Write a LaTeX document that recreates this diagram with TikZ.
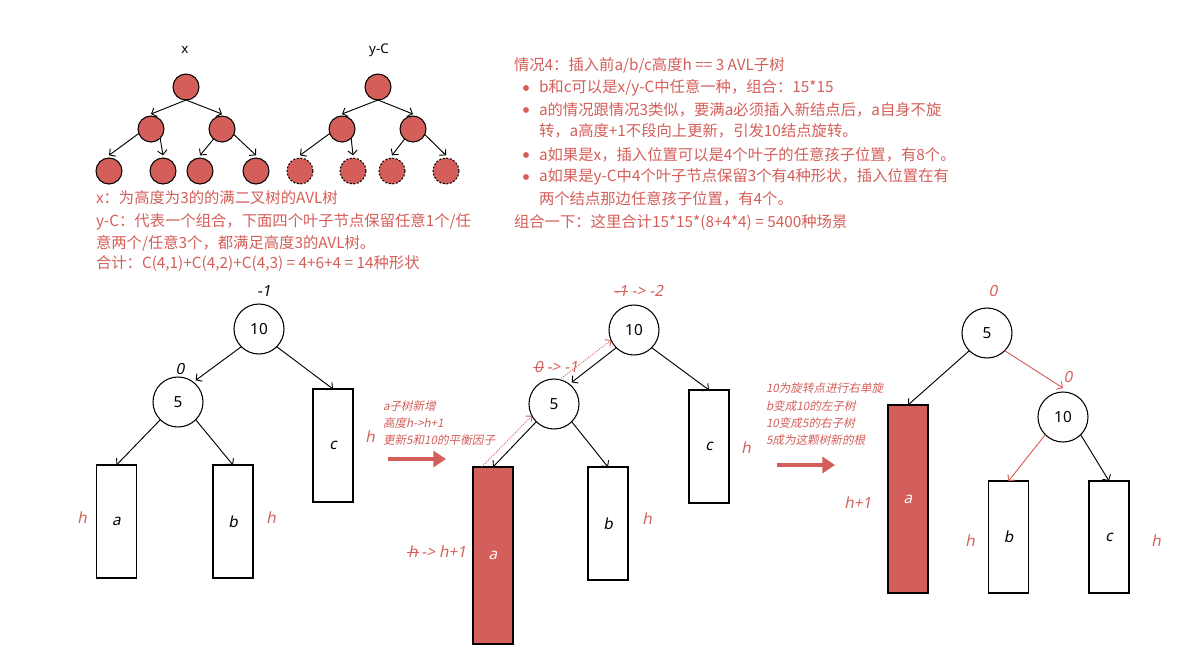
\documentclass[tikz,border=0pt]{standalone}
\usepackage{fontspec}
\setmainfont{Noto Sans}
\newfontfamily\cjk{Noto Sans CJK SC}
\newfontfamily\cjkit[FakeSlant=0.2]{Noto Sans CJK SC}
\newfontfamily\lit[FakeSlant=0.2]{Noto Sans}
\usetikzlibrary{arrows.meta}
\definecolor{rd}{RGB}{212,94,89}
\tikzset{
  every node/.style={inner sep=0pt, outer sep=0pt},
  sc/.style={circle, draw, fill=rd, minimum size=19.5pt, line width=0.8pt},
  scd/.style={sc, dashed, dash pattern=on 1.5pt off 1.2pt},
  bc/.style={circle, draw, fill=white, minimum size=37.5pt, line width=0.8pt, font=\fontsize{11.5}{13}\selectfont},
  box/.style={draw, line width=0.8pt, minimum width=30pt, font=\lit\fontsize{11.5}{13}\selectfont},
  rbox/.style={box, fill=rd, text=white},
  arr/.style={line width=0.7pt, -{Straight Barb[length=3.2pt,width=7pt]}},
  rarr/.style={arr, draw=rd},
  darr/.style={draw=rd, line width=0.7pt, densely dotted, -{Straight Barb[length=3pt,width=6.5pt]}},
  big/.style={draw=rd, line width=2.8pt, -{Triangle[length=9.5pt,width=12pt]}},
  txt/.style={anchor=west, text=rd, font=\cjk\fontsize{11.5}{13}\selectfont},
  ann/.style={anchor=west, text=rd, font=\cjkit\fontsize{8.7}{10}\selectfont},
  bf/.style={text=black, font=\lit\fontsize{11.5}{13}\selectfont},
  rf/.style={text=rd, font=\lit\fontsize{11.5}{13}\selectfont},
  lab/.style={font=\fontsize{10}{12}\selectfont},
  strike/.style={draw=rd, line width=0.6pt},
}
\begin{document}
\begin{tikzpicture}[x=0.75pt,y=-0.75pt]
\useasboundingbox (0,0) rectangle (1197,669);

% ---------- small tree x ----------
\node[lab] (lx) at (185,50) {x};
\node[sc] (xr) at (186,87) {};
\node[sc] (xa) at (151,129) {};
\node[sc] (xb) at (222,129) {};
\node[sc] (x1) at (109,171) {};
\node[sc] (x2) at (163,171) {};
\node[sc] (x3) at (200,171) {};
\node[sc] (x4) at (256,171) {};
\draw[arr] (xr.south) -- ([yshift=1.5pt]xa.north);
\draw[arr] (xr.south) -- ([yshift=1.5pt]xb.north);
\draw[arr] (xa.200) -- ([yshift=2pt]x1.north);
\draw[arr] (xa.-45) -- ([yshift=2pt]x2.north);
\draw[arr] (xb.230) -- ([yshift=2pt]x3.north);
\draw[arr] (xb.-25) -- ([yshift=2pt]x4.north);

% ---------- small tree y-C ----------
\node[lab] (ly) at (379,50) {y-C};
\node[sc] (yr) at (378,87) {};
\node[sc] (ya) at (342,129) {};
\node[sc] (yb) at (413,129) {};
\node[scd] (y1) at (300,171) {};
\node[scd] (y2) at (353,171) {};
\node[scd] (y3) at (392,171) {};
\node[scd] (y4) at (446,171) {};
\draw[arr] (yr.south) -- ([yshift=1.5pt]ya.north);
\draw[arr] (yr.south) -- ([yshift=1.5pt]yb.north);
\draw[arr] (ya.200) -- ([yshift=2pt]y1.north);
\draw[arr] (ya.-45) -- ([yshift=2pt]y2.north);
\draw[arr] (yb.230) -- ([yshift=2pt]y3.north);
\draw[arr] (yb.-25) -- ([yshift=2pt]y4.north);

% ---------- left text ----------
\node[txt] (t1) at (96,198) {x：为高度为3的的满二叉树的AVL树};
\node[txt] (t2) at (96,222) {y-C：代表一个组合，下面四个叶子节点保留任意1个/任};
\node[txt] (t3) at (96,243) {意两个/任意3个，都满足高度3的AVL树。};
\node[txt] (t4) at (96,264) {合计：C(4,1)+C(4,2)+C(4,3) = 4+6+4 = 14种形状};

% ---------- right text ----------
\node[txt] (r1) at (514,65) {情况4：插入前a/b/c高度h == 3 AVL子树};
\node[txt] (r2) at (539,88) {b和c可以是x/y-C中任意一种，组合：15*15};
\node[txt] (r3) at (539,110) {a的情况跟情况3类似，要满a必须插入新结点后，a自身不旋};
\node[txt] (r4) at (539,131) {转，a高度+1不段向上更新，引发10结点旋转。};
\node[txt] (r5) at (539,155) {a如果是x，插入位置可以是4个叶子的任意孩子位置，有8个。};
\node[txt] (r6) at (539,177) {a如果是y-C中4个叶子节点保留3个有4种形状，插入位置在有};
\node[txt] (r7) at (539,199) {两个结点那边任意孩子位置，有4个。};
\node[txt] (r8) at (514,223) {组合一下：这里合计15*15*(8+4*4) = 5400种场景};
\foreach \yy in {88,110,155,177}
  \fill[rd] (526,\yy) circle (2.2pt);

% ---------- tree 1 ----------
\node[bc] (p10) at (259,329) {10};
\node[bc] (p5) at (178,402) {5};
\node[box, minimum height=84.75pt] (pa) at (116.5,521.5) {a};
\node[box, minimum height=84.75pt] (pb) at (233,521.5) {b};
\node[box, minimum height=84.75pt] (pc) at (333,445.5) {c};
\draw[arr] (p10.south west) -- ([yshift=3pt]p5.north east);
\draw[arr] (p10.south east) -- (pc.north);
\draw[arr] (p5.south west) -- (pa.north);
\draw[arr] (p5.south east) -- (pb.north);
\node[bf] (pl1) at (264,291) {-1};
\node[bf] (pl0) at (180,369) {0};
\node[rf] (ph1) at (82,518) {h};
\node[rf] (ph2) at (271,518) {h};
\node[rf] (ph3) at (370,437) {h};

% ---------- arrow 1 ----------
\node[ann] (an1) at (383,406) {a子树新增};
\node[ann] (an2) at (383,423) {高度h->h+1};
\node[ann] (an3) at (383,440) {更新5和10的平衡因子};
\coordinate (ba1) at (388,459);
\coordinate (ba2) at (446,459);
\draw[big] (ba1) -- (ba2);

% ---------- tree 2 ----------
\node[bc] (q10) at (634,330) {10};
\node[bc] (q5) at (554,404) {5};
\node[rbox, minimum height=132.75pt] (qa) at (493,555.5) {a};
\node[box, minimum height=84.75pt] (qb) at (608,523.5) {b};
\node[box, minimum height=84.75pt] (qc) at (709,446.5) {c};
\draw[arr] (q10.south west) -- ([yshift=3pt]q5.north east);
\draw[arr] (q10.south east) -- (qc.north);
\draw[arr] (q5.south west) -- (qa.north);
\draw[arr] (q5.south east) -- (qb.north);
\draw[darr] ([xshift=6.5pt]qa.north west) -- (q5.208);
\draw[darr] (q5.77) -- (q10.204);
\node[rf, anchor=west] (qs1) at (614,291) {-1};
\draw[strike] (qs1.west) -- (qs1.east);
\node[rf, anchor=west] (qs1b) at ([xshift=3pt]qs1.east) {-> -2};
\node[rf, anchor=west] (qs2) at (534,367) {0};
\draw[strike] ([xshift=-1pt]qs2.west) -- ([xshift=1pt]qs2.east);
\node[rf, anchor=west] (qs2b) at ([xshift=3pt]qs2.east) {-> -1};
\node[rf, anchor=west] (qs3) at (408,552) {h};
\draw[strike] ([xshift=-1pt]qs3.west) -- ([xshift=1pt]qs3.east);
\node[rf, anchor=west] (qs3b) at ([xshift=3pt]qs3.east) {-> h+1};
\node[rf] (qh1) at (746,448) {h};
\node[rf] (qh2) at (647,519) {h};

% ---------- arrow 2 ----------
\node[ann] (bn1) at (766,388) {10为旋转点进行右单旋};
\node[ann] (bn2) at (766,406) {b变成10的左子树};
\node[ann] (bn3) at (766,423) {10变成5的右子树};
\node[ann] (bn4) at (766,440) {5成为这颗树新的根};
\coordinate (bb1) at (777,465);
\coordinate (bb2) at (835,465);
\draw[big] (bb1) -- (bb2);

% ---------- tree 3 ----------
\node[bc] (s5) at (987,333) {5};
\node[bc] (s10) at (1063,417) {10};
\node[rbox, minimum height=141pt] (sa) at (908,499) {a};
\node[box, minimum height=84pt] (sb) at (1008.5,537) {b};
\node[box, minimum height=84pt] (sc) at (1109,537) {c};
\draw[arr] (s5.south west) -- (sa.north);
\draw[rarr] (s5.south east) -- ([yshift=3pt]s10.north);
\draw[rarr] (s10.south west) -- (sb.north);
\draw[arr] (s10.south east) -- (sc.north);
\node[rf] (sl0) at (993,291) {0};
\node[rf] (sl1) at (1068,377) {0};
\node[rf] (sh1) at (858,503) {h+1};
\node[rf] (sh2) at (970,541) {h};
\node[rf] (sh3) at (1156,541) {h};
\end{tikzpicture}
\end{document}
